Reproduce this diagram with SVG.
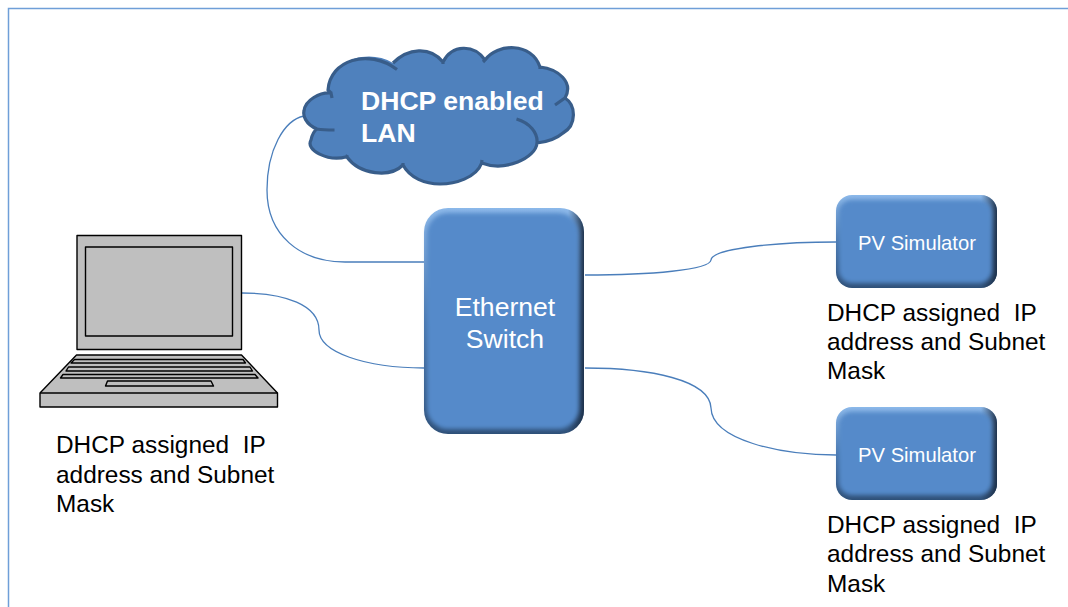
<svg xmlns="http://www.w3.org/2000/svg" width="1068" height="607" viewBox="0 0 1068 607">
<style>
.cap{font:24.400px "Liberation Sans",Arial,sans-serif;fill:#000;white-space:pre}
.conn{fill:none;stroke:#4a7ebb;stroke-width:1.3}
.lap{fill:#bfbfbf;stroke:#000;stroke-width:1.4;stroke-linejoin:round}
.white{font-family:"Liberation Sans",Arial,sans-serif;fill:#fff;text-anchor:middle}
.cl{fill:none;stroke:#385d8a;stroke-width:3.2}
.base{fill:url(#bevV)}
.edge{fill:url(#bevH)}
.face{fill:#558aca;filter:url(#soft)}
</style>
<defs>
<linearGradient id="bevV" x1="0" y1="0" x2="0" y2="1"><stop offset="0" stop-color="#8db9ea"/><stop offset="0.5" stop-color="#4a78ae"/><stop offset="1" stop-color="#2f5078"/></linearGradient>
<linearGradient id="bevH" x1="0" y1="0" x2="1" y2="0"><stop offset="0.9" stop-color="#1d2f47" stop-opacity="0"/><stop offset="1" stop-color="#1d2f47" stop-opacity=".95"/></linearGradient>
<filter id="soft" x="-5%" y="-5%" width="110%" height="110%"><feGaussianBlur stdDeviation="2"/></filter>
</defs>
<rect width="1068" height="607" fill="#fff"/>
<path d="M8.500 607V8.500H1068" fill="none" stroke="#6f9fd8" stroke-width="1.500"/>
<g id="connectors">
<path class="conn" d="M304 116C284 120 267 150 267 190C267 235 300 262 345 262H424"/>
<path class="conn" d="M242 293C285 293 319 305 319 330C319 352 365 368 424 368"/>
<path class="conn" d="M585 275C650 275 710 270 711 260C712 248 780 242 836 242"/>
<path class="conn" d="M585 368C650 368 710 380 711 408C712 440 780 455 836 455"/>
</g>
<g id="cloud">
<path fill="#4f81bd" d="M328 90C330 60 368 48 393 63C408 48 430 46 443 62C452 44 474 44 485 60C497 43 532 42 540 67C558 69 574 82 565 98C576 105 577 125 563 133C556 139 546 142 537 143C536 158 505 172 481.700 163C476 178 455 184 440 184C425 184 410 178 403 165C390 178 360 175 346.700 156.700C328 162 305 150 311 140C312 135 314 131 317 129C305 124 303 115 304 111C305 100 320 92 331 93Z"/>
<path class="cl" d="M332 98L331 93C320 92 305 100 304 111C303 115 305 124 317 129C323 130 329 130 334.500 130M317 129C314 131 312 135 311 140C305 150 328 162 346.700 156.700L347.500 155M346.700 156.700C360 175 390 178 403 165L403 163M403 165C410 178 425 184 440 184C455 184 476 178 481.700 163L482 160M481.700 163C505 172 536 158 537 143C538 133 530 123 516.500 119M537 143C546 142 556 139 563 133C577 125 576 105 565 98L555 105M565 98C574 82 558 69 540 67L540 69M540 67C532 42 497 43 485 60L483 62M485 60C474 44 452 44 443 62L443 64M443 62C430 46 408 48 393 63M397 69.500C368 48 330 60 328 90L331 93"/>
<text class="white" font-size="26.600" font-weight="700" style="text-anchor:start" x="361" y="110">DHCP enabled</text>
<text class="white" font-size="26.600" font-weight="700" style="text-anchor:start" x="361" y="142">LAN</text>
</g>
<g id="laptop">
<path class="lap" d="M77 235.500H241.500V349.500H77Z"/>
<path class="lap" d="M85.500 247H232.500V336H85.500Z"/>
<path class="lap" d="M76.500 355H241.500L277.500 393V407H40V393Z"/>
<path fill="none" stroke="#000" stroke-width="1.400" d="M40 393H277.500"/>
<path class="lap" d="M74.500 359.500H243L245.500 363H71Z"/>
<path class="lap" d="M68.500 367H250L252.500 371H66Z"/>
<path class="lap" d="M63 374.500H255L258 378H60.500Z"/>
<path class="lap" d="M107.500 381H211L213.500 386H105.500Z"/>
</g>
<g id="switch">
<rect class="base" x="424" y="208" width="160" height="226" rx="24"/>
<rect class="edge" x="424" y="208" width="160" height="226" rx="24"/>
<rect class="face" x="427" y="213" width="152" height="216" rx="21"/>
<text class="white" font-size="26.600" x="505" y="316">Ethernet</text>
<text class="white" font-size="26.600" x="505" y="348">Switch</text>
</g>
<g id="pv1">
<rect class="base" x="836" y="195" width="161" height="93" rx="16"/>
<rect class="edge" x="836" y="195" width="161" height="93" rx="16"/>
<rect class="face" x="839" y="200" width="153" height="83" rx="13"/>
<text class="white" font-size="20.200" x="917" y="250">PV Simulator</text>
</g>
<g id="pv2">
<rect class="base" x="836" y="407" width="161" height="93" rx="16"/>
<rect class="edge" x="836" y="407" width="161" height="93" rx="16"/>
<rect class="face" x="839" y="412" width="153" height="83" rx="13"/>
<text class="white" font-size="20.200" x="917" y="462">PV Simulator</text>
</g>
<g id="captions">
<text class="cap" x="56" y="453">DHCP assigned  IP</text>
<text class="cap" x="56" y="483">address and Subnet</text>
<text class="cap" x="56" y="512">Mask</text>
<text class="cap" x="827" y="321">DHCP assigned  IP</text>
<text class="cap" x="827" y="350">address and Subnet</text>
<text class="cap" x="827" y="379">Mask</text>
<text class="cap" x="827" y="533">DHCP assigned  IP</text>
<text class="cap" x="827" y="562">address and Subnet</text>
<text class="cap" x="827" y="592">Mask</text>
</g>
</svg>
